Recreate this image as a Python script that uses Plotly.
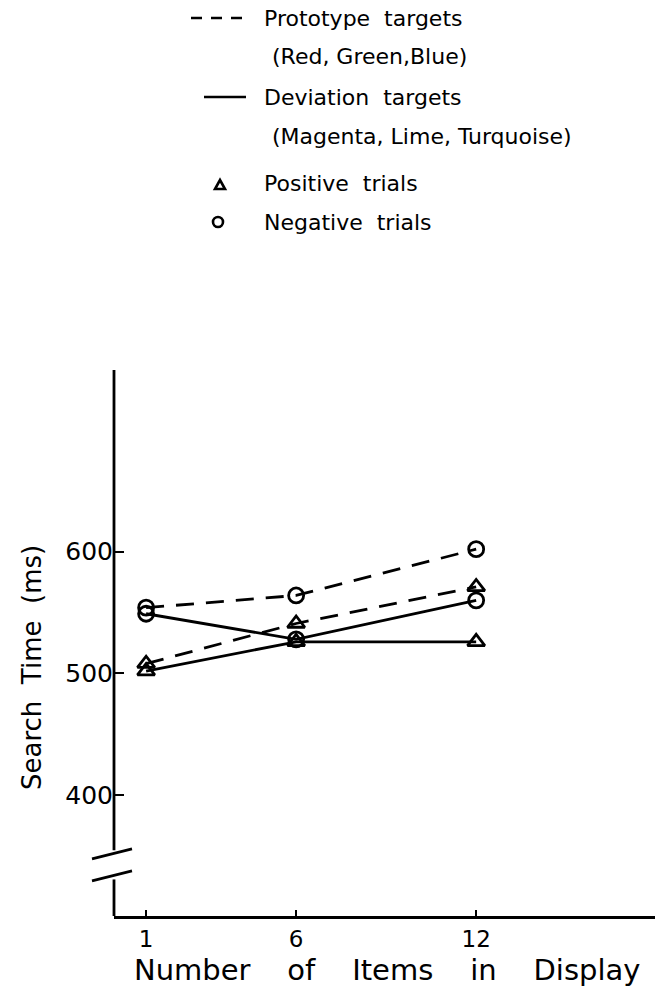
import plotly.graph_objects as go

# Search time (ms) by number of items in the display
items = [1, 6, 12]
proto_positive = [508, 541, 571]
proto_negative = [554, 564, 602]
dev_positive = [502, 526, 526]
dev_negative = [549, 528, 560]

y_ticks = [400, 500, 600]
x_ticks = [1, 6, 12]

W, H = 663, 988
ML, MR, MT, MB = 114, 8, 370, 72
X_RANGE = [-0.07, 17.96]
Y_RANGE = [301, 749]
PW, PH = W - ML - MR, H - MT - MB

FONT = "DejaVu Sans"
LW = 2.8


def px(x):
    return (x - ML) / PW


def py(y):
    return (H - MB - y) / PH


def yv(v):
    return (v - Y_RANGE[0]) / (Y_RANGE[1] - Y_RANGE[0])


fig = go.Figure()

series = [
    (proto_negative, "dash", "circle-open"),
    (proto_positive, "dash", "triangle-up-open"),
    (dev_negative, "solid", "circle-open"),
    (dev_positive, "solid", "triangle-up-open"),
]
for vals, dash, sym in series:
    fig.add_trace(go.Scatter(
        x=items, y=vals, mode="lines+markers",
        line=dict(color="black", width=LW,
                  dash="18px,12px" if dash == "dash" else "solid"),
        marker=dict(symbol=sym, size=15, color="black",
                    line=dict(color="black", width=2.8)),
        showlegend=False, cliponaxis=False,
    ))

shapes = []
# broken y axis: upper and lower segments with two break strokes
brk_hi, brk_lo = 352, 334
shapes.append(dict(type="line", xref="paper", yref="paper",
                   x0=0, x1=0, y0=1, y1=yv(brk_hi + 3),
                   line=dict(color="black", width=LW)))
shapes.append(dict(type="line", xref="paper", yref="paper",
                   x0=0, x1=0, y0=yv(brk_lo - 3), y1=0,
                   line=dict(color="black", width=LW)))
for b in (brk_hi, brk_lo):
    shapes.append(dict(type="line", xref="paper", yref="paper",
                       x0=px(ML - 22), x1=px(ML + 18),
                       y0=yv(b) - 5 / PH, y1=yv(b) + 5 / PH,
                       line=dict(color="black", width=LW)))

# key samples
shapes.append(dict(type="line", xref="paper", yref="paper",
                   x0=px(191), x1=px(242), y0=py(18), y1=py(18),
                   line=dict(color="black", width=2.6, dash="11px,9px")))
shapes.append(dict(type="line", xref="paper", yref="paper",
                   x0=px(204), x1=px(246), y0=py(97), y1=py(97),
                   line=dict(color="black", width=2.6)))
# small triangle
tx, ty = 220, 185
shapes.append(dict(type="path", xref="paper", yref="paper",
                   path=f"M {px(tx-5)} {py(ty+4)} L {px(tx+5)} {py(ty+4)} L {px(tx)} {py(ty-5)} Z",
                   line=dict(color="black", width=2.6)))
# small circle
cx, cy = 218, 222
shapes.append(dict(type="circle", xref="paper", yref="paper",
                   x0=px(cx - 5), x1=px(cx + 5), y0=py(cy - 5), y1=py(cy + 5),
                   line=dict(color="black", width=2.6)))

annotations = []
key_text = [
    ("Prototype  targets", 262, 18),
    ("(Red, Green,Blue)", 270, 56),
    ("Deviation  targets", 262, 97),
    ("(Magenta, Lime, Turquoise)", 270, 137),
    ("Positive  trials", 262, 183),
    ("Negative  trials", 262, 222),
]
for txt, x, y in key_text:
    annotations.append(dict(text=txt, xref="paper", yref="paper",
                            x=px(x), y=py(y), xanchor="left", yanchor="middle",
                            showarrow=False,
                            font=dict(family=FONT, size=22, color="black")))

annotations.append(dict(text="Number    of    Items    in    Display", xref="paper", yref="paper",
                        x=px(387), y=py(970), xanchor="center", yanchor="middle",
                        showarrow=False, font=dict(family=FONT, size=29, color="black")))
annotations.append(dict(text="Search  Time  (ms)", xref="paper", yref="paper",
                        x=px(32), y=py(668), xanchor="center", yanchor="middle",
                        textangle=-90, showarrow=False,
                        font=dict(family=FONT, size=26, color="black")))

fig.update_layout(
    width=W, height=H,
    margin=dict(l=ML, r=MR, t=MT, b=MB, pad=0),
    paper_bgcolor="white", plot_bgcolor="white",
    shapes=shapes, annotations=annotations,
    xaxis=dict(range=X_RANGE, tickvals=x_ticks, ticktext=[str(v) for v in x_ticks],
               ticks="inside", ticklen=6, tickwidth=2, tickcolor="black",
               showline=True, linecolor="black", linewidth=LW,
               showgrid=False, zeroline=False,
               tickfont=dict(family=FONT, size=23, color="black")),
    yaxis=dict(range=Y_RANGE, tickvals=y_ticks, ticktext=[str(v) for v in y_ticks],
               ticks="inside", ticklen=10, tickwidth=2, tickcolor="black",
               showline=False, showgrid=False, zeroline=False,
               tickfont=dict(family=FONT, size=25, color="black")),
)

fig.write_html("out.html")
